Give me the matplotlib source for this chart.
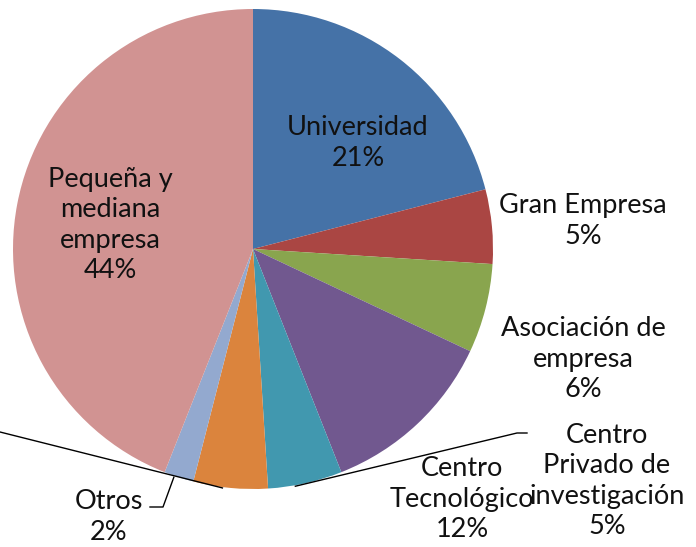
import numpy as np
import matplotlib.pyplot as plt

plt.rcParams['font.family'] = ['Lato', 'DejaVu Sans']

# datos del gráfico
categorias = ["Universidad", "Gran Empresa", "Asociación de\nempresa", "Centro\nTecnológico",
              "Centro\nPrivado de\ninvestigación", "Otros tipos", "Otros", "Pequeña y\nmediana\nempresa"]
valores = [21, 5, 6, 12, 5, 5, 2, 44]
colores = ["#4572A7", "#AA4643", "#89A54E", "#71588F", "#4198AF", "#DB843D", "#93A9CF", "#D19392"]

W, H = 696, 547
cx, cy, R = 253, H - 249, 240

fig = plt.figure(figsize=(W / 100, H / 100), dpi=100)
ax = fig.add_axes([0, 0, 1, 1])
wedges, _ = ax.pie(valores, colors=colores, startangle=90, counterclock=False,
                   center=(cx, cy), radius=R, wedgeprops=dict(linewidth=0))
ax.set_xlim(0, W)
ax.set_ylim(0, H)
ax.set_aspect('equal')
ax.axis('off')

# posiciones de las etiquetas (coordenadas de imagen)
pos_etiquetas = [(358, 143), (583, 221), (583, 359), (462, 499),
                 (607, 481), None, (109, 517), (110, 225)]

for cat, val, pos in zip(categorias, valores, pos_etiquetas):
    if pos is None:
        continue
    ax.text(pos[0], H - pos[1], f"{cat}\n{val}%", ha='center', va='center',
            fontsize=19.5, linespacing=1.28, color='#111111')


def borde(i):
    w = wedges[i]
    ang = np.deg2rad((w.theta1 + w.theta2) / 2)
    return cx + R * np.cos(ang), cy + R * np.sin(ang)


# líneas guía
x0, y0 = borde(5)
ax.plot([x0 - 8, 0], [y0, H - 432], color='black', lw=1)
x0, y0 = borde(4)
ax.plot([x0 - 10, 517, 527], [y0 - 3, H - 433, H - 433], color='black', lw=1)
x0, y0 = borde(6)
ax.plot([x0 - 5, 163, 150], [y0, H - 507, H - 507], color='black', lw=1)

fig.savefig("out.png", dpi=100)
